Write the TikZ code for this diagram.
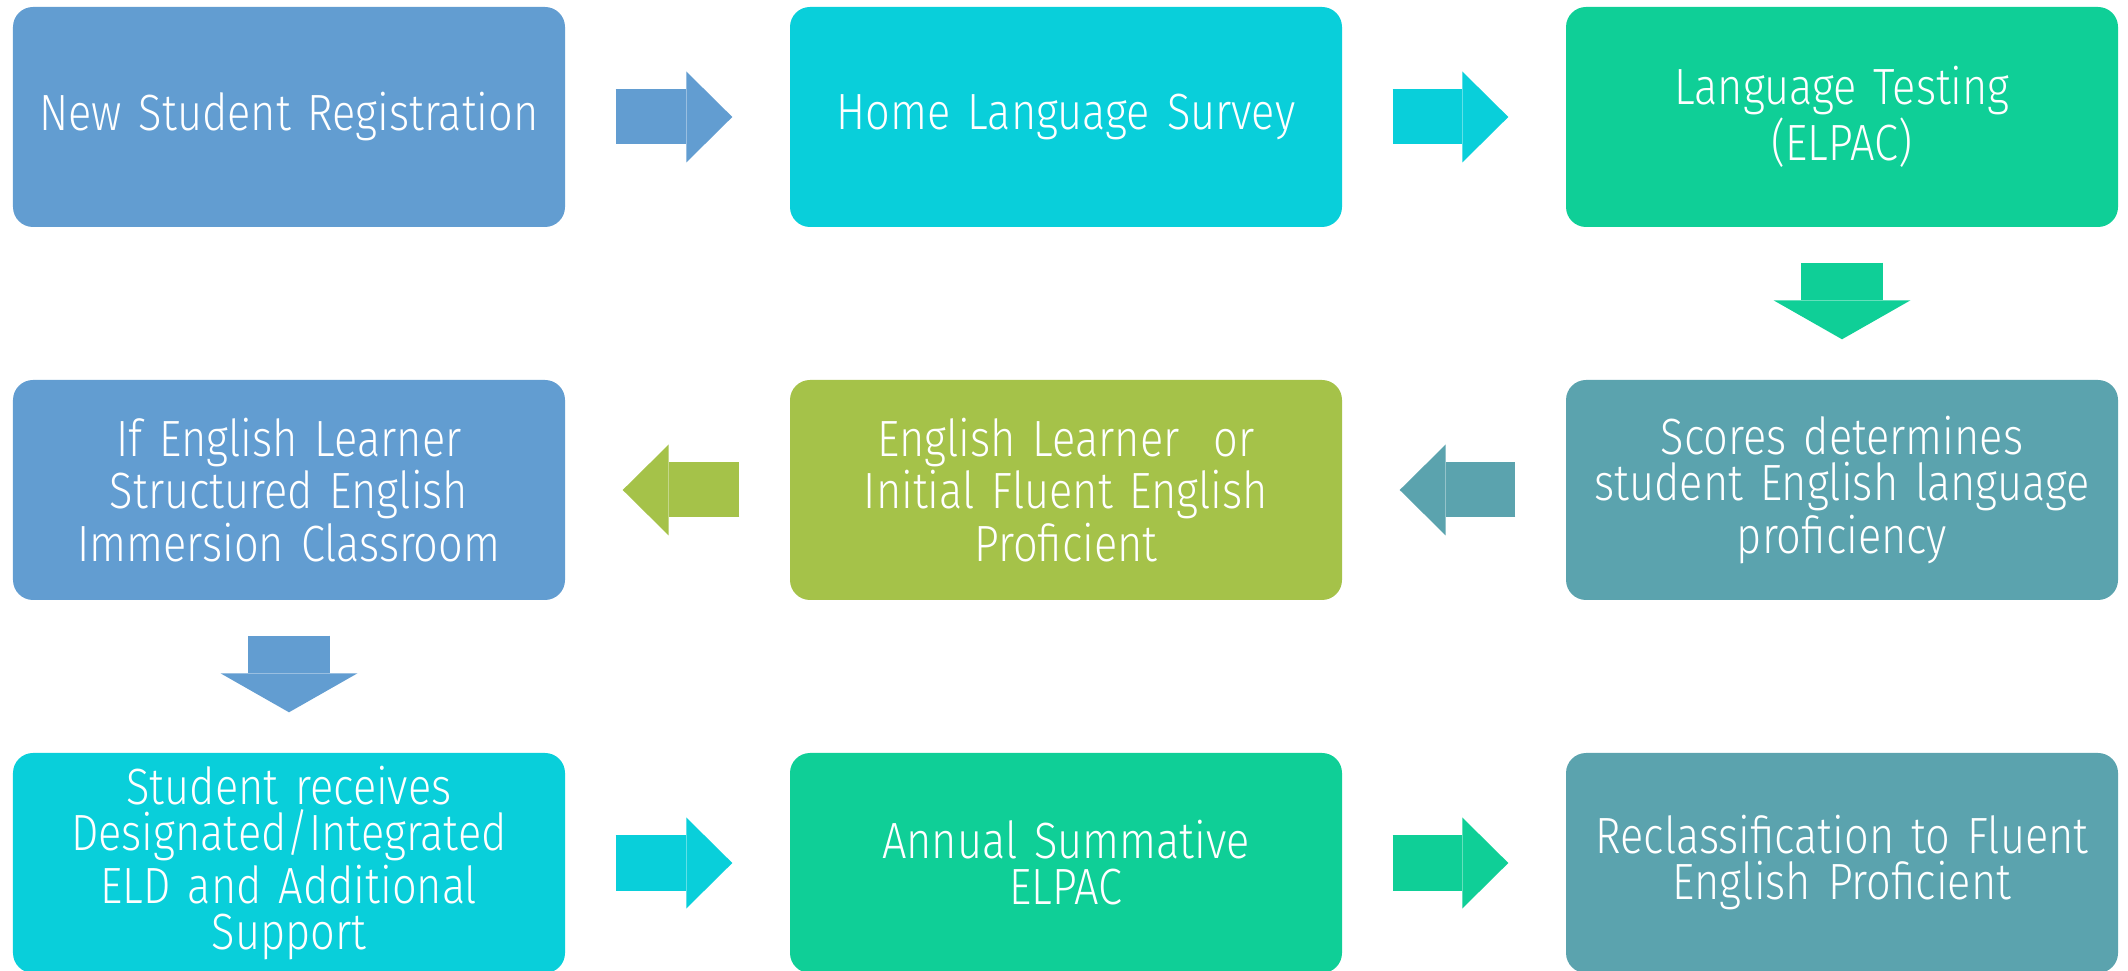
\documentclass[tikz,border=0pt]{standalone}
\usepackage{fontspec}
\setmainfont{Fira Sans Light}[FakeStretch=0.85, WordSpace=0.75]
\usepackage{tikz}
\usetikzlibrary{positioning, arrows.meta}
\definecolor{stepblue}{HTML}{629DD1}
\definecolor{stepcyan}{HTML}{09CFDA}
\definecolor{stepgreen}{HTML}{0FCF97}
\definecolor{stepteal}{HTML}{5BA3AE}
\definecolor{stepolive}{HTML}{A5C249}

\begin{document}
\begin{tikzpicture}[
  stepbox/.style={rounded corners=0.2cm, minimum width=5.52cm, minimum height=2.2cm,
                  text width=5.4cm, inner sep=0pt, align=center, text=white,
                  font=\fontsize{14.5}{13.1}\selectfont},
  hflow/.style={line width=0.55cm, shorten <=0.5cm, shorten >=0.57cm,
                -{Triangle[length=0.46cm, width=0.91cm, line width=0pt]}},
  vflow/.style={line width=0.82cm, shorten <=0.35cm, shorten >=0.4cm,
                -{Triangle[length=0.39cm, width=1.37cm, line width=0pt]}},
]
\useasboundingbox (0,0) rectangle (21.28,9.70);
% top row
\node[stepbox, fill=stepblue] (reg) at (2.89,8.53) {New Student Registration};
\node[stepbox, fill=stepcyan] (survey) at (10.66,8.53) {Home Language Survey};
\node[stepbox, fill=stepgreen] (test) at (18.42,8.53) {Language Testing\\(ELPAC)};
% middle row
\node[stepbox, fill=stepblue] (sei) at (2.89,4.80)
  {If English Learner\\Structured English\\Immersion Classroom};
\node[stepbox, fill=stepolive] (elifep) at (10.66,4.80)
  {English Learner\ \ or\\Initial Fluent English\\Proficient};
\node[stepbox, fill=stepteal] (scores) at (18.42,4.80)
  {Scores determines\\student English language\\proficiency};
% bottom row
\node[stepbox, fill=stepcyan] (eld) at (2.89,1.07)
  {Student receives\\Designated/Integrated\\ELD and Additional\\Support};
\node[stepbox, fill=stepgreen] (annual) at (10.66,1.07) {Annual Summative\\ELPAC};
\node[stepbox, fill=stepteal] (rfep) at (18.42,1.07)
  {Reclassification to Fluent\\English Proficient};
% arrows
\draw[hflow, stepblue] (reg) -- (survey);
\draw[hflow, stepcyan] (survey) -- (test);
\draw[vflow, stepgreen] (test) -- (scores);
\draw[hflow, stepteal] (scores) -- (elifep);
\draw[hflow, stepolive] (elifep) -- (sei);
\draw[vflow, stepblue] (sei) -- (eld);
\draw[hflow, stepcyan] (eld) -- (annual);
\draw[hflow, stepgreen] (annual) -- (rfep);
\end{tikzpicture}
\end{document}
